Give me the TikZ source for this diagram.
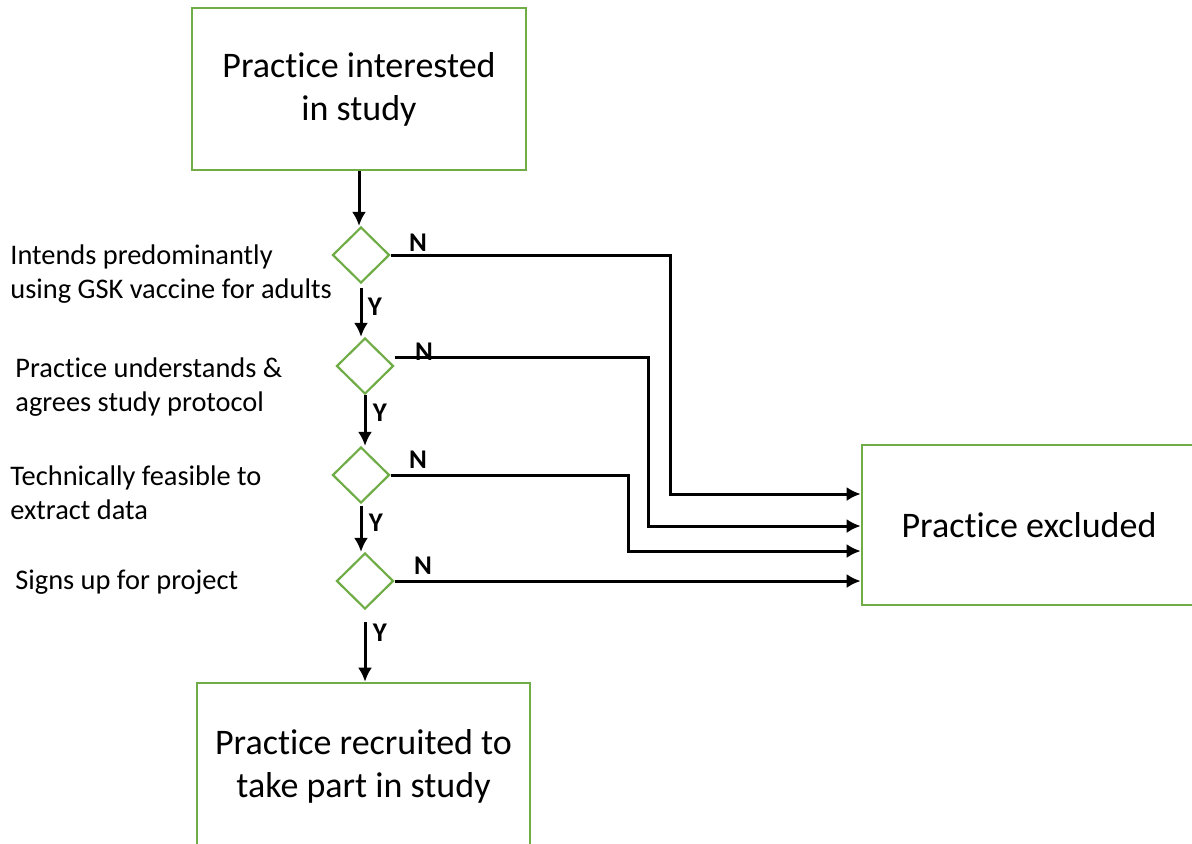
\documentclass[tikz,border=0pt]{standalone}
\usepackage{fontspec}
\setmainfont[Ligatures={TeX,NoCommon}]{Carlito}
\usetikzlibrary{shapes.geometric,arrows.meta}
\definecolor{boxgreen}{RGB}{112,173,71}

\begin{document}
\begin{tikzpicture}[x=0.5pt,y=-0.5pt,
                    box/.style = {draw=boxgreen, line width=1.3pt, align=center,
                                  font=\fontsize{18}{21.5}\selectfont, inner sep=0pt},
                    check/.style = {diamond, draw=boxgreen, line width=1.1pt,
                                    minimum width=28.5pt, minimum height=28pt, inner sep=0pt},
                    lbl/.style = {anchor=west, align=left, inner xsep=0pt,
                                  font=\fontsize{14.2}{17}\selectfont},
                    yn/.style = {font=\fontsize{13.5}{15}\selectfont\bfseries},
                    arrow/.style = {line width=1.5pt,-{Latex[length=7pt,width=7pt]}}]
                    \useasboundingbox (0,0) rectangle (1192,843);

                    % boxes
                    \node [box, minimum width=167pt, minimum height=81pt] (interested) at (359,89)
                          {Practice interested\\in study};
                    \node [box, minimum width=166.5pt, minimum height=83pt] (recruited) at (363.5,766)
                          {Practice recruited to\\take part in study};
                    \node [box, minimum width=167pt, minimum height=80pt] (excluded) at (1029,525)
                          {Practice excluded};

                    % checks
                    \node [check] (intends) at (361,255) {};
                    \node [check] (agrees) at (365,366) {};
                    \node [check] (feasible) at (361,475) {};
                    \node [check] (signs) at (365,581) {};

                    \node [lbl] (intendstxt) at (10,274) {Intends predominantly\\using GSK vaccine for adults};
                    \node [lbl] (agreestxt) at (15,387) {Practice understands \&\\agrees study protocol};
                    \node [lbl] (feasibletxt) at (10,493) {Technically feasible to\\extract data};
                    \node [lbl] (signstxt) at (15,582) {Signs up for project};

                    % yes path
                    \draw[arrow] (interested.south) -- (interested.south |- intends.north);
                    \draw[arrow, shorten <=2pt] (intends.south) -- (intends.south |- agrees.north);
                    \draw[arrow] (agrees.south) -- (agrees.south |- feasible.north);
                    \draw[arrow, shorten <=1pt] (feasible.south) -- (feasible.south |- signs.north);
                    \draw[arrow, shorten <=6pt] (signs.south) -- (signs.south |- recruited.north);

                    \node [yn] (y1) at (375,307) {Y};
                    \node [yn] (y2) at (380,413) {Y};
                    \node [yn] (y3) at (376,523) {Y};
                    \node [yn] (y4) at (380,633) {Y};

                    % no path
                    \draw[arrow] (intends.east) -| (670,494) -- (excluded.west |- 0,494);
                    \draw[arrow] (agrees.east |- 0,357) -| (648,526) -- (excluded.west |- 0,526);
                    \draw[arrow] (feasible.east) -| (628,551) -- (excluded.west |- 0,551);
                    \draw[arrow] (signs.east) -- (excluded.west |- signs.east);

                    \node [yn] (n1) at (418,243) {N};
                    \node [yn] (n2) at (424,352) {N};
                    \node [yn] (n3) at (418,460) {N};
                    \node [yn] (n4) at (423,566) {N};
                \end{tikzpicture}
\end{document}
